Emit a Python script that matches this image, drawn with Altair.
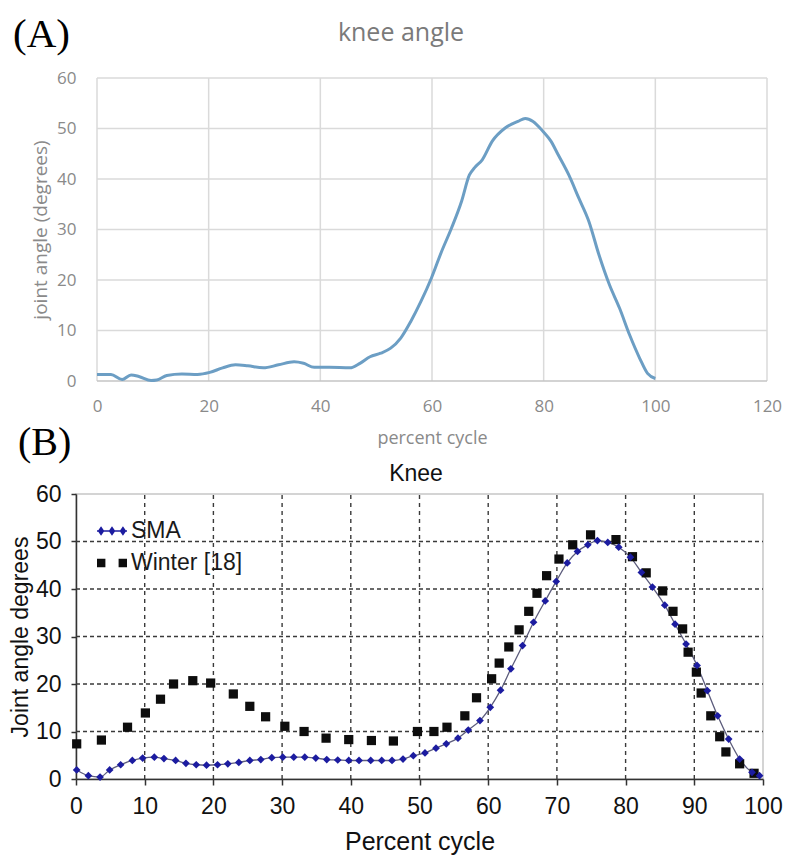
import altair as alt
import pandas as pd

# ---------------- Panel (A) data: knee angle ----------------
knee_x = [0, 2.5, 4.5, 6.1, 7.5, 9.7, 10.7, 12.5, 15.2, 18, 20.2, 22.5, 24.8, 27, 29.8,
          32.5, 35.3, 37, 38.9, 41.6, 45.3, 47.1, 48.9, 50.8, 52.6, 54.4, 56.2, 58, 59.9,
          61.7, 63.5, 65.3, 66.7, 67.6, 69, 70.8, 73.1, 75.4, 76.7, 78.1, 79.9, 81.3, 82.6,
          84.5, 86.3, 88.1, 89.9, 91.8, 93.6, 95.4, 97.2, 98.6, 100]
knee_y = [1.3, 1.3, 0.3, 1.2, 0.9, 0.1, 0.2, 1.1, 1.4, 1.3, 1.7, 2.6, 3.2, 3.0, 2.6,
          3.2, 3.8, 3.5, 2.7, 2.7, 2.6, 3.5, 4.8, 5.5, 6.5, 8.5, 11.8, 15.7, 20.4,
          25.6, 30.3, 35.6, 40.8, 42.2, 43.8, 47.5, 50.1, 51.4, 52.0, 51.4, 49.4, 47.5, 44.8,
          40.8, 36.2, 31.6, 25.0, 19.0, 14.4, 9.1, 4.5, 1.5, 0.5]
a_xticks = [0, 20, 40, 60, 80, 100, 120]
a_yticks = [0, 10, 20, 30, 40, 50, 60]

# ---------------- Panel (B) data: Knee ----------------
sma_x = [0.1, 1.8, 3.5, 4.9, 6.5, 8.2, 9.7, 11.4, 12.8, 14.5, 16, 17.5, 19, 20.6, 22.1,
         23.7, 25.3, 26.9, 28.5, 30.1, 31.7, 33.3, 34.9, 36.5, 38.1, 39.7, 41.2, 42.9,
         44.5, 46, 47.6, 49.1, 50.8, 52.4, 53.9, 55.6, 57.1, 58.8, 60.3, 61.8, 63.3, 65,
         66.6, 68.3, 69.9, 71.5, 73, 74.5, 75.9, 77.4, 79, 80.7, 82.3, 83.9, 85.7, 87.2,
         88.8, 90.4, 91.9, 93.4, 95, 96.6, 98.4, 99.5]
sma_y = [1.9, 0.7, 0.4, 1.9, 3.0, 3.9, 4.4, 4.6, 4.3, 3.9, 3.3, 3.0, 2.9, 3.0, 3.2,
         3.5, 3.9, 4.1, 4.5, 4.6, 4.6, 4.6, 4.4, 4.1, 4.0, 3.9, 3.9, 3.9,
         3.9, 3.9, 4.2, 4.9, 5.5, 6.5, 7.4, 8.6, 10.3, 12.3, 15.1, 18.7, 23.2, 28.1,
         33.0, 37.5, 41.6, 45.5, 47.9, 49.3, 50.2, 49.8, 48.8, 46.7, 43.5, 40.4, 36.6, 32.6,
         28.4, 23.9, 18.6, 13.3, 8.4, 4.2, 1.4, 0.7]
winter_x = [0.1, 3.7, 7.5, 10.1, 12.3, 14.2, 17, 19.6, 22.9, 25.3, 27.6, 30.4, 33.2, 36.4,
            39.7, 43, 46.2, 49.7, 52.1, 54, 56.6, 58.3, 60.5, 61.6, 63, 64.5, 65.9, 67.1,
            68.5, 70.3, 72.3, 74.9, 78.6, 81, 83, 85.4, 86.9, 88.3, 89.1, 90.3, 91, 92.4,
            93.7, 94.6, 96.6, 98.7]
winter_y = [7.4, 8.2, 10.9, 13.9, 16.8, 20.0, 20.7, 20.2, 17.9, 15.3, 13.1, 11.1, 10.0, 8.6,
            8.3, 8.1, 8.0, 10.0, 10.0, 10.9, 13.3, 17.1, 21.1, 24.4, 27.8, 31.4, 35.3, 39.1,
            42.8, 46.3, 49.3, 51.4, 50.4, 46.8, 43.4, 39.6, 35.3, 31.6, 26.7, 22.5, 18.1, 13.3,
            8.9, 5.7, 3.2, 1.2]
b_xticks = [0, 10, 20, 30, 40, 50, 60, 70, 80, 90, 100]
b_yticks = [0, 10, 20, 30, 40, 50, 60]
series_names = ["SMA", "Winter [18]"]

FONT_A = "Open Sans"
FONT_B = "Liberation Sans"
GRAY_A = "#8a8a8a"

# ======================= Panel A =======================
W_A, H_A = 691, 303
A_XMIN = -3.761

dfA = pd.DataFrame({"x": knee_x, "y": knee_y})
dfA_h = pd.DataFrame({"y": a_yticks[1:], "x0": a_xticks[0], "x1": a_xticks[-1]})
dfA_v = pd.DataFrame({"x": a_xticks, "y0": a_yticks[0], "y1": a_yticks[-1]})
dfA_base = pd.DataFrame({"y": [a_yticks[0]], "x0": [a_xticks[0]], "x1": [a_xticks[-1]]})

a_xscale = alt.Scale(domain=[A_XMIN, a_xticks[-1]], nice=False, zero=False)
a_yscale = alt.Scale(domain=[a_yticks[0], a_yticks[-1]], nice=False)
a_xaxis = alt.Axis(values=a_xticks, domain=False, ticks=False, grid=False,
                   labelFont=FONT_A, labelFontSize=17, labelColor=GRAY_A, labelPadding=17,
                   labelFlush=False, labelOverlap=False,
                   title="percent cycle", titleFont=FONT_A, titleFontSize=18,
                   titleFontWeight="normal", titleColor=GRAY_A, titlePadding=15, titleX=356)
a_yaxis = alt.Axis(values=a_yticks, domain=False, ticks=False, grid=False,
                   labelFont=FONT_A, labelFontSize=17, labelColor=GRAY_A, labelPadding=0,
                   labelOverlap=False,
                   title="joint angle (degrees)", titleFont=FONT_A, titleFontSize=19,
                   titleFontWeight="normal", titleColor=GRAY_A, titlePadding=6)


def ax_x(field):
    return alt.X(field, type="quantitative", scale=a_xscale, axis=a_xaxis)


def ax_y(field):
    return alt.Y(field, type="quantitative", scale=a_yscale, axis=a_yaxis)


a_hgrid = alt.Chart(dfA_h).mark_rule(color="#dadada", strokeWidth=1.5).encode(
    x=ax_x("x0"), x2="x1", y=ax_y("y"))
a_vgrid = alt.Chart(dfA_v).mark_rule(color="#dadada", strokeWidth=1.5).encode(
    x=ax_x("x"), y=ax_y("y0"), y2="y1")
a_base = alt.Chart(dfA_base).mark_rule(color="#c4c4c4", strokeWidth=1.5).encode(
    x=ax_x("x0"), x2="x1", y=ax_y("y"))
a_line = alt.Chart(dfA).mark_line(color="#6c9ec4", strokeWidth=3, interpolate="monotone").encode(
    x=ax_x("x"), y=ax_y("y"))
a_title = alt.Chart(pd.DataFrame({"t": ["knee angle"]})).mark_text(
    font=FONT_A, fontSize=25, color="#7a7a7a", align="center", baseline="middle").encode(
    text="t:N", x=alt.value(325), y=alt.value(-45))
a_lab = alt.Chart(pd.DataFrame({"t": ["(A)"]})).mark_text(
    font="Liberation Serif", fontSize=41, color="#000000", align="left", baseline="alphabetic").encode(
    text="t:N", x=alt.value(-63), y=alt.value(-31))
b_lab = alt.Chart(pd.DataFrame({"t": ["(B)"]})).mark_text(
    font="Liberation Serif", fontSize=40, color="#000000", align="left", baseline="alphabetic").encode(
    text="t:N", x=alt.value(-58), y=alt.value(377))

top = alt.layer(a_hgrid, a_vgrid, a_base, a_line, a_title, a_lab, b_lab).properties(
    width=W_A, height=H_A, view=alt.ViewBackground(stroke="transparent"))

# ======================= Panel B =======================
W_B, H_B = 687, 285
dfS = pd.DataFrame({"x": sma_x, "y": sma_y})
dfW = pd.DataFrame({"x": winter_x, "y": winter_y})
dfLeg = pd.DataFrame({"x": [sma_x[0], winter_x[0]], "y": [sma_y[0], winter_y[0]],
                      "series": series_names})
dfB_h = pd.DataFrame({"y": b_yticks[1:-1], "x0": b_xticks[0], "x1": b_xticks[-1]})
dfB_v = pd.DataFrame({"x": b_xticks[1:-1], "y0": b_yticks[0], "y1": b_yticks[-1]})

b_xscale = alt.Scale(domain=[b_xticks[0], b_xticks[-1]], nice=False)
b_yscale = alt.Scale(domain=[b_yticks[0], b_yticks[-1]], nice=False)
b_xaxis = alt.Axis(values=b_xticks, grid=False, domainColor="#333333", domainWidth=1.5,
                   tickColor="#333333", tickSize=6, tickWidth=1.5,
                   labelFont=FONT_B, labelFontSize=23, labelColor="#111111", labelPadding=10,
                   labelFlush=False, labelOverlap=False,
                   title="Percent cycle", titleFont=FONT_B, titleFontSize=25,
                   titleFontWeight="normal", titleColor="#111111", titlePadding=11)
b_yaxis = alt.Axis(values=b_yticks, grid=False, domainColor="#333333", domainWidth=1.5,
                   tickColor="#333333", tickSize=5, tickWidth=1.5,
                   labelFont=FONT_B, labelFontSize=23, labelColor="#111111", labelPadding=10,
                   labelOverlap=False,
                   title="Joint angle degrees", titleFont=FONT_B, titleFontSize=23,
                   titleFontWeight="normal", titleColor="#111111", titlePadding=3)


def bx(field):
    return alt.X(field, type="quantitative", scale=b_xscale, axis=b_xaxis)


def by(field):
    return alt.Y(field, type="quantitative", scale=b_yscale, axis=b_yaxis)


b_hgrid = alt.Chart(dfB_h).mark_rule(color="#3a3a3a", strokeWidth=1.4, strokeDash=[4, 3]).encode(
    x=bx("x0"), x2="x1", y=by("y"))
b_vgrid = alt.Chart(dfB_v).mark_rule(color="#3a3a3a", strokeWidth=1.4, strokeDash=[4, 4]).encode(
    x=bx("x"), y=by("y0"), y2="y1")
b_sline = alt.Chart(dfS).mark_line(color="#5c5c7c", strokeWidth=1.3, interpolate="monotone").encode(
    x=bx("x"), y=by("y"))
b_winter = alt.Chart(dfW).mark_point(shape="square", filled=True, color="#0d0d0d", size=85,
                                     opacity=1).encode(x=bx("x"), y=by("y"))
b_sma = alt.Chart(dfS).mark_point(shape="diamond", filled=True, color="#1c1ca0", size=60,
                                  opacity=1).encode(x=bx("x"), y=by("y"))


def fmt(v):
    return ("%.3f" % v).rstrip("0").rstrip(".")


sma_path = "M-1,-0.05L1,-0.05L1,0.05L-1,0.05Z"
for cx in (-0.73, 0.0, 0.73):
    sma_path += " M%s,0L%s,-0.32L%s,0L%s,0.32Z" % (fmt(cx - 0.22), fmt(cx), fmt(cx + 0.22), fmt(cx))
win_path = ("M-1,-0.28L-0.44,-0.28L-0.44,0.28L-1,0.28Z "
            "M0.44,-0.28L1,-0.28L1,0.28L0.44,0.28Z")

leg = alt.Legend(title=None, orient="none", legendX=21, legendY=22, padding=0,
                 symbolSize=900, symbolStrokeWidth=0, symbolOffset=0, labelOffset=4,
                 labelFont=FONT_B, labelFontSize=23, labelColor="#1a1a1a", rowPadding=5,
                 labelLimit=300)
b_legend = alt.Chart(dfLeg).transform_filter("false").mark_point(filled=True, opacity=1).encode(
    x=bx("x"), y=by("y"),
    shape=alt.Shape("series:N", scale=alt.Scale(domain=series_names, range=[sma_path, win_path]),
                    legend=leg),
    color=alt.Color("series:N", scale=alt.Scale(domain=series_names, range=["#1c1ca0", "#0d0d0d"]),
                    legend=leg),
)
b_title = alt.Chart(pd.DataFrame({"t": ["Knee"]})).mark_text(
    font=FONT_B, fontSize=23, color="#111111", align="center", baseline="alphabetic").encode(
    text="t:N", x=alt.value(340), y=alt.value(-13))

bottom = alt.layer(b_hgrid, b_vgrid, b_sline, b_winter, b_sma, b_legend, b_title).properties(
    width=W_B, height=H_B)

chart = alt.vconcat(top, bottom, spacing=113, bounds="flush").resolve_legend(
    color="independent", shape="independent"
).properties(
    padding={"left": 0, "top": 5, "right": 4, "bottom": 4}
).configure_view(stroke="#c6c6c6", strokeWidth=1.5)

chart.save("out.html", embed_options={"renderer": "svg", "actions": False})
